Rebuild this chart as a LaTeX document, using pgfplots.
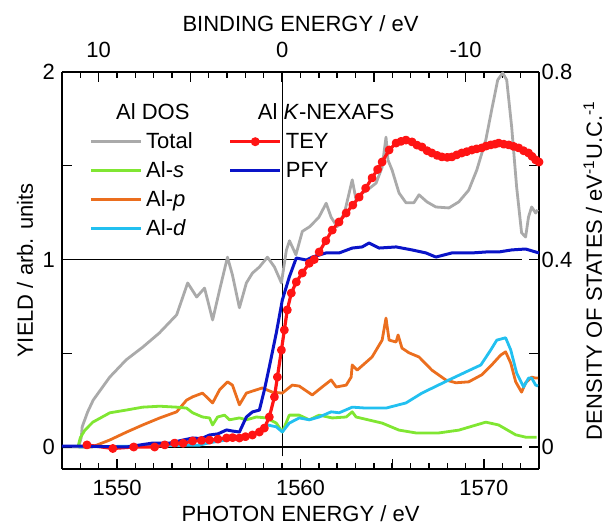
\documentclass[border=0pt]{standalone}
\usepackage{fontspec}
\setmainfont{Liberation Sans}
\usepackage{pgfplots}
\pgfplotsset{compat=1.18}
\definecolor{dostot}{HTML}{AAAAAA}
\definecolor{doss}{HTML}{80E632}
\definecolor{dosp}{HTML}{EB6E1E}
\definecolor{dosd}{HTML}{22C0F0}
\definecolor{tey}{HTML}{FF1414}
\definecolor{pfy}{HTML}{0A14C8}

\pgfplotsset{
  common/.style={
    scale only axis, width=238.5pt, height=198.5pt,
    xmin=1547, xmax=1573,
    tick align=inside,
    major tick length=5pt, minor tick length=3pt,
    tick style={black, line width=0.7pt},
    axis line style={line width=1pt},
    ticklabel style={font=\fontsize{11}{13}\selectfont},
    label style={font=\fontsize{11}{13}\selectfont},
    /pgf/number format/assume math mode=true,
    clip=false,
  },
}

\begin{document}
\begin{tikzpicture}
% density of states, right axis
\begin{axis}[common,
  axis x line*=top, axis y line*=right,
  ymin=-0.04693, ymax=0.8,
  xtick={1549,1554,1559,1564,1569}, xticklabels={10,,0,,-10},
  minor xtick={1548,...,1572},
  ytick={0,0.2,0.4,0.6,0.8}, yticklabels={0,,0.4,,0.8},
  xlabel={BINDING ENERGY / eV},
  ylabel={DENSITY OF STATES / eV\textsuperscript{-1}U.C.\textsuperscript{-1}},
  xlabel style={at={(axis description cs:0.5,1.1008)}, anchor=base},
  ylabel style={at={(axis description cs:1.132,0.5)}, anchor=base},
  xticklabel style={yshift=3.4pt},
  yticklabel style={xshift=-2.2pt},
]
\coordinate (sw) at (rel axis cs:0,0);
\draw[line width=0.6pt] (axis cs:1547,0) -- (axis cs:1572.1,0);
\draw[line width=0.6pt] (axis cs:1547,0.4) -- (axis cs:1572.1,0.4);
\draw[line width=0.6pt] (axis cs:1559,-0.02) -- (axis cs:1559,0.8);

% Total
\addplot[dostot, line width=1.4pt, line join=round, forget plot] coordinates {
(1547.0,0) (1547.9,0.0) (1548.05,0.02) (1548.1,0.043) (1548.4,0.075) (1548.7,0.10)
(1549.6,0.149) (1550.5,0.186) (1551.4,0.213) (1552.3,0.243) (1553.25,0.282)
(1553.85,0.350) (1554.34,0.320) (1554.77,0.339) (1555.21,0.271) (1555.59,0.335)
(1556.02,0.405) (1556.29,0.367) (1556.67,0.297) (1557.05,0.350) (1557.38,0.371)
(1557.76,0.384) (1558.2,0.405) (1558.58,0.384) (1558.96,0.350) (1559.23,0.420)
(1559.4,0.44) (1559.75,0.41) (1560.1,0.46) (1560.5,0.47) (1561.0,0.49)
(1561.4,0.52) (1561.67,0.49) (1562.0,0.47) (1562.4,0.50) (1562.82,0.570)
(1563.03,0.527) (1563.3,0.54) (1563.7,0.55) (1564.12,0.563) (1564.45,0.597)
(1564.66,0.661) (1564.77,0.612) (1564.99,0.591) (1565.37,0.542) (1565.75,0.521)
(1566.18,0.521) (1566.46,0.538) (1566.89,0.523) (1567.38,0.512) (1568.09,0.510)
(1568.63,0.523) (1569.17,0.548) (1569.61,0.591) (1570.1,0.655) (1570.42,0.719)
(1570.75,0.783) (1571.02,0.798) (1571.24,0.783) (1571.51,0.683) (1571.78,0.555)
(1572.05,0.457) (1572.27,0.448) (1572.43,0.491) (1572.6,0.512) (1572.82,0.499)
(1572.92,0.506)
};
% Al-p
\addplot[dosp, line width=1.4pt, line join=round, forget plot] coordinates {
(1547.9,0) (1548.63,0.0) (1549.61,0.015) (1550.53,0.032) (1551.40,0.047)
(1552.33,0.062) (1553.25,0.075) (1553.79,0.100) (1554.12,0.107) (1554.66,0.115)
(1555.21,0.094) (1555.59,0.122) (1556.02,0.139) (1556.29,0.132) (1556.67,0.090)
(1557.05,0.115) (1557.6,0.122) (1557.92,0.126) (1558.47,0.117) (1559.01,0.115)
(1559.55,0.132) (1559.93,0.13) (1560.64,0.111) (1561.18,0.128) (1561.67,0.143)
(1561.95,0.128) (1562.49,0.132) (1562.76,0.149) (1562.82,0.175) (1563.09,0.164)
(1563.9,0.192) (1564.45,0.228) (1564.66,0.275) (1564.83,0.228) (1565.21,0.224)
(1565.32,0.239) (1565.53,0.211) (1565.91,0.201) (1566.46,0.192) (1567.16,0.164)
(1567.92,0.143) (1568.47,0.137) (1569.17,0.139) (1569.88,0.154) (1570.42,0.175)
(1570.91,0.196) (1571.18,0.203) (1571.46,0.179) (1571.73,0.139) (1572.05,0.117)
(1572.27,0.137) (1572.6,0.149) (1572.82,0.147) (1572.95,0.147)
};
% Al-s
\addplot[doss, line width=1.4pt, line join=round, forget plot] coordinates {
(1547.87,0.0) (1548.0,0.02) (1548.25,0.036) (1548.68,0.053) (1549.61,0.073)
(1550.53,0.079) (1551.40,0.085) (1552.33,0.087) (1553.25,0.085) (1553.79,0.083)
(1554.12,0.073) (1554.66,0.064) (1555.04,0.062) (1555.21,0.047) (1555.48,0.064)
(1555.86,0.068) (1556.13,0.058) (1556.67,0.062) (1557.05,0.058) (1557.6,0.064)
(1558.14,0.062) (1558.68,0.051) (1559.01,0.032) (1559.39,0.068) (1559.93,0.068)
(1560.48,0.058) (1561.02,0.068) (1561.73,0.062) (1562.49,0.064) (1562.82,0.075)
(1563.03,0.064) (1564.45,0.051) (1565.37,0.036) (1566.29,0.030) (1567.54,0.030)
(1568.63,0.036) (1570.1,0.053) (1570.8,0.047) (1571.73,0.026) (1572.27,0.021)
(1572.87,0.021)
};
% Al-d
\addplot[dosd, line width=1.4pt, line join=round, forget plot] coordinates {
(1547.9,0.0) (1554.5,0.004) (1555.04,0.009) (1555.97,0.015) (1556.84,0.021)
(1557.76,0.032) (1558.2,0.047) (1558.68,0.043) (1559.01,0.032) (1559.39,0.051)
(1559.93,0.062) (1560.48,0.058) (1561.02,0.064) (1561.67,0.075) (1562.11,0.073)
(1562.82,0.085) (1563.58,0.083) (1564.66,0.083) (1565.75,0.094) (1566.62,0.115)
(1568.09,0.143) (1569.01,0.160) (1569.83,0.175) (1570.37,0.207) (1570.7,0.228)
(1571.18,0.233) (1571.46,0.207) (1571.78,0.158) (1572.16,0.128) (1572.43,0.147)
(1572.6,0.147) (1572.82,0.132) (1572.95,0.13)
};
\end{axis}

% NEXAFS yield, left axis
\begin{axis}[common,
  axis x line*=bottom, axis y line*=left,
  ymin=-0.11733, ymax=2,
  xtick={1550,1555,...,1570}, xticklabels={1550,,1560,,1570},
  minor xtick={1547,...,1573},
  ytick={0,0.5,...,2}, yticklabels={0,,1,,2},
  xlabel={PHOTON ENERGY / eV},
  ylabel={YIELD / arb. units},
  xlabel style={at={(axis description cs:0.5,-0.131)}, anchor=base},
  ylabel style={at={(axis description cs:-0.0608,0.5)}, anchor=base},
  xticklabel style={yshift=-1.9pt},
  legend columns=2,
  legend cell align=left,
  legend image code/.code={\draw[mark repeat=2,mark phase=2,#1] plot coordinates {(0pt,0pt) (12.5pt,0pt) (25pt,0pt)};},
  legend style={draw=none, fill=none, inner sep=0pt, row sep=0pt,
    at={(axis description cs:0.0566,0.935)}, anchor=north west,
    font=\fontsize{11}{13}\selectfont,
    nodes={text height=9.5pt, text depth=3pt, inner sep=1pt},
    /tikz/every odd column/.append style={column sep=1pt},
    /tikz/every even column/.append style={column sep=17pt}},
]
% TEY
\addplot[tey, line width=1.6pt, line join=round, mark=*, mark size=1.4pt, forget plot] coordinates {
(1548.36,0.011) (1549.77,-0.008) (1550.91,0.0) (1552.05,0.0)
(1552.6,0.011) (1553.14,0.021) (1553.6,0.02) (1554.12,0.032) (1554.6,0.035)
(1555.04,0.037) (1555.5,0.042) (1555.97,0.048) (1556.3,0.05) (1556.67,0.048)
(1557.0,0.055) (1557.38,0.064) (1557.76,0.080) (1558.03,0.101) (1558.3,0.160)
(1558.58,0.267) (1558.74,0.373) (1558.96,0.517) (1559.12,0.624) (1559.28,0.731)
(1559.5,0.821) (1559.77,0.880) (1560.1,0.928) (1560.48,0.98) (1560.75,1.0)
(1561.02,1.04) (1561.38,1.10) (1561.73,1.157) (1562.1,1.20) (1562.49,1.248)
(1562.85,1.29) (1563.2,1.333) (1563.55,1.38) (1563.9,1.435) (1564.2,1.48)
(1564.45,1.52) (1564.83,1.584) (1565.21,1.621) (1565.48,1.63) (1565.75,1.637)
(1566.08,1.627) (1566.35,1.61) (1566.62,1.6) (1566.9,1.58) (1567.16,1.568)
(1567.45,1.555) (1567.71,1.547) (1568.0,1.545) (1568.25,1.547) (1568.52,1.558)
(1568.79,1.568) (1569.06,1.575) (1569.34,1.584) (1569.6,1.59) (1569.88,1.595)
(1570.12,1.605) (1570.37,1.611) (1570.6,1.615) (1570.8,1.621) (1571.08,1.615)
(1571.35,1.611) (1571.62,1.603) (1571.89,1.595) (1572.16,1.58) (1572.43,1.568)
(1572.62,1.55) (1572.82,1.531) (1573.0,1.52)
};
% PFY
\addplot[pfy, line width=1.5pt, line join=round, forget plot] coordinates {
(1547.0,0.005) (1548.0,0.005) (1549.0,0.003) (1550.5,0.0) (1551.95,0.021)
(1552.87,0.021) (1553.5,0.035) (1554.12,0.048) (1554.6,0.045) (1555.04,0.064)
(1555.5,0.07) (1555.97,0.091) (1556.3,0.085) (1556.67,0.080) (1557.05,0.160)
(1557.38,0.187) (1557.76,0.197) (1558.03,0.304) (1558.3,0.427) (1558.68,0.608)
(1559.01,0.784) (1559.39,0.907) (1559.77,1.008) (1560.32,0.997) (1560.64,1.013)
(1561.4,1.035) (1562.11,1.035) (1562.82,1.061) (1563.36,1.067) (1563.74,1.088)
(1564.28,1.061) (1565.21,1.067) (1566.08,1.051) (1566.84,1.035) (1567.38,1.013)
(1568.25,1.035) (1569.34,1.035) (1570.1,1.040) (1570.8,1.040) (1571.51,1.051)
(1572.27,1.056) (1572.82,1.040) (1573.0,1.035)
};

\addlegendimage{empty legend}
\addlegendentry{\hspace*{-15pt}Al DOS}
\addlegendimage{empty legend}
\addlegendentry{\hspace*{-14pt}Al \textit{K}-NEXAFS}
\addlegendimage{dostot, line width=1.4pt}
\addlegendentry{Total}
\addlegendimage{tey, line width=1.6pt, mark=*, mark size=1.4pt}
\addlegendentry{TEY}
\addlegendimage{doss, line width=1.4pt}
\addlegendentry{Al-\textit{s}}
\addlegendimage{pfy, line width=1.5pt}
\addlegendentry{PFY}
\addlegendimage{dosp, line width=1.4pt}
\addlegendentry{Al-\textit{p}}
\addlegendimage{empty legend}
\addlegendentry{}
\addlegendimage{dosd, line width=1.4pt}
\addlegendentry{Al-\textit{d}}
\addlegendimage{empty legend}
\addlegendentry{}
\end{axis}

\pgfresetboundingbox
\path[use as bounding box] ([shift={(-31pt,-27.5pt)}]sw) rectangle ([shift={(277pt,234.5pt)}]sw);
\end{tikzpicture}
\end{document}
